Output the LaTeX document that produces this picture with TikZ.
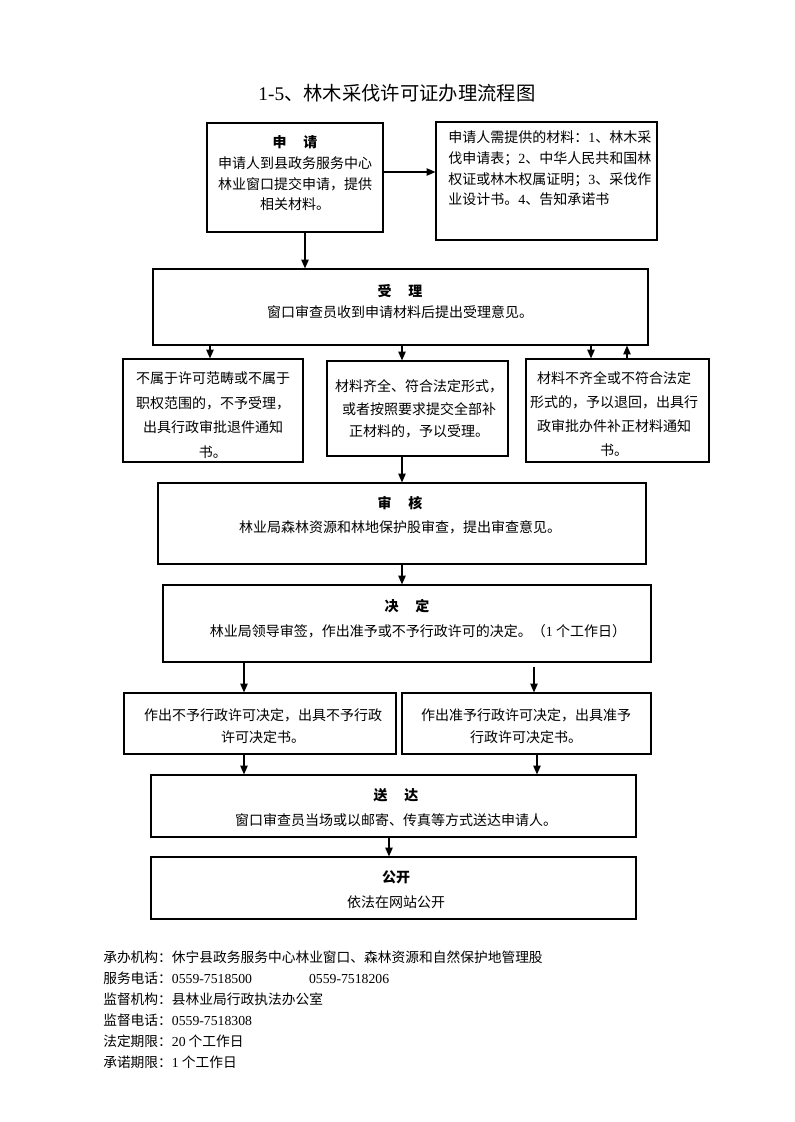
\documentclass[tikz,border=0pt]{standalone}
\usepackage{fontspec}
\setmainfont{Liberation Serif}
\newfontfamily\cjk{Noto Sans CJK SC}
\usetikzlibrary{arrows.meta}
\newcommand{\latn}[1]{{\rmfamily #1}}
\begin{document}
\begin{tikzpicture}[x=0.75pt,y=-0.75pt,
  bx/.style={draw, line width=0.9pt, inner sep=0pt},
  tx/.style={inner sep=0pt, align=center, font=\cjk\fontsize{10.5}{15.5}\selectfont},
  arr/.style={line width=0.8pt, -{Triangle[length=6.5pt,width=5.5pt]}}]
\path[use as bounding box, fill=white] (0,0) rectangle (794,1122);

% title
\node[inner sep=0pt, font=\cjk\fontsize{14.5}{18}\selectfont] (title) at (397,93) {\latn{1-5}、林木采伐许可证办理流程图};

% boxes
\node[bx, minimum width=132pt, minimum height=81.75pt] (shenqing) at (295,177.5) {};
\node[bx, minimum width=165.75pt, minimum height=88.5pt] (info) at (546.5,181) {};
\node[bx, minimum width=371.25pt, minimum height=57pt] (shouli) at (400.5,307) {};
\node[bx, minimum width=135pt, minimum height=77.25pt] (bu) at (213,410.5) {};
\node[bx, minimum width=135.75pt, minimum height=71.25pt] (qi) at (417.5,408.5) {};
\node[bx, minimum width=137.25pt, minimum height=77.25pt] (buqi) at (617.5,410.5) {};
\node[bx, minimum width=366pt, minimum height=60.75pt] (shenhe) at (402,523.5) {};
\node[bx, minimum width=366pt, minimum height=57.75pt] (jueding) at (407,623.5) {};
\node[bx, minimum width=204pt, minimum height=45.75pt] (no) at (260,723.5) {};
\node[bx, minimum width=186.75pt, minimum height=45.75pt] (yes) at (526.5,723.5) {};
\node[bx, minimum width=363.75pt, minimum height=46.5pt] (songda) at (393.5,806) {};
\node[bx, minimum width=363.75pt, minimum height=46.5pt] (gongkai) at (393.5,888) {};

% texts
\node[tx] (shenqingT) at (295,173.5) {{\bfseries 申\hspace{1.2em}请}\\申请人到县政务服务中心\\林业窗口提交申请，提供\\相关材料。};
\node[tx, align=left, anchor=west] (infoT) at (448,168.5) {申请人需提供的材料：\latn{1}、林木采\\伐申请表；\latn{2}、中华人民共和国林\\权证或林木权属证明；\latn{3}、采伐作\\业设计书。\latn{4}、告知承诺书};
\node[tx, font=\cjk\fontsize{10.5}{15.75}\selectfont] (shouliT) at (400,301.5) {{\bfseries 受\hspace{1.2em}理}\\窗口审查员收到申请材料后提出受理意见。};
\node[tx, font=\cjk\fontsize{10.5}{18.5}\selectfont] (buT) at (213,415) {不属于许可范畴或不属于\\职权范围的，不予受理，\\出具行政审批退件通知\\书。};
\node[tx, font=\cjk\fontsize{10.5}{16.9}\selectfont] (qiT) at (419,409) {材料齐全、符合法定形式，\\或者按照要求提交全部补\\正材料的，予以受理。};
\node[tx, font=\cjk\fontsize{10.5}{18}\selectfont] (buqiT) at (614,414) {材料不齐全或不符合法定\\形式的，予以退回，出具行\\政审批办件补正材料通知\\书。};
\node[tx, font=\cjk\fontsize{10.5}{18}\selectfont] (shenheT) at (400,515) {{\bfseries 审\hspace{1.2em}核}\\林业局森林资源和林地保护股审查，提出审查意见。};
\node[tx] (juedingH) at (407,606) {\bfseries 决\hspace{1.2em}定};
\node[tx] (juedingT) at (418,631) {林业局领导审签，作出准予或不予行政许可的决定。（\latn{1} 个工作日）};
\node[tx, font=\cjk\fontsize{10.5}{16.5}\selectfont] (noT) at (263,726) {作出不予行政许可决定，出具不予行政\\许可决定书。};
\node[tx, font=\cjk\fontsize{10.5}{16.5}\selectfont] (yesT) at (526,726) {作出准予行政许可决定，出具准予\\行政许可决定书。};
\node[tx, font=\cjk\fontsize{10.5}{18.75}\selectfont] (songdaT) at (396,807.5) {{\bfseries 送\hspace{1.2em}达}\\窗口审查员当场或以邮寄、传真等方式送达申请人。};
\node[tx, font=\cjk\fontsize{10.5}{18.75}\selectfont] (gongkaiT) at (396,889.5) {{\bfseries 公开}\\依法在网站公开};

% footer
\node[tx, align=left, anchor=west, font=\cjk\fontsize{10.3}{15.75}\selectfont] (footer) at (103,1009.5) {承办机构：休宁县政务服务中心林业窗口、森林资源和自然保护地管理股\\服务电话：\latn{0559-7518500}\hspace{42.75pt}\latn{0559-7518206}\\监督机构：县林业局行政执法办公室\\监督电话：\latn{0559-7518308}\\法定期限：\latn{20} 个工作日\\承诺期限：\latn{1} 个工作日};

% connectors
\draw[arr] (shenqing.east |- 0,172) -- (info.west |- 0,172);
\draw[arr] (305,0 |- shenqing.south) -- (305,0 |- shouli.north);
\draw[arr] (210,0 |- shouli.south) -- (210,0 |- bu.north);
\draw[arr] (402,0 |- shouli.south) -- (402,0 |- qi.north);
\draw[arr] (591,0 |- shouli.south) -- (591,0 |- buqi.north);
\draw[arr] (627,0 |- buqi.north) -- (627,0 |- shouli.south);
\draw[arr] (402,0 |- qi.south) -- (402,0 |- shenhe.north);
\draw[arr] (402,0 |- shenhe.south) -- (402,0 |- jueding.north);
\draw[arr] (244,0 |- jueding.south) -- (244,0 |- no.north);
\draw[arr, shorten <=3pt] (534,0 |- jueding.south) -- (534,0 |- yes.north);
\draw[arr] (244,0 |- no.south) -- (244,0 |- songda.north);
\draw[arr] (537,0 |- yes.south) -- (537,0 |- songda.north);
\draw[arr] (389,0 |- songda.south) -- (389,0 |- gongkai.north);
\end{tikzpicture}
\end{document}
